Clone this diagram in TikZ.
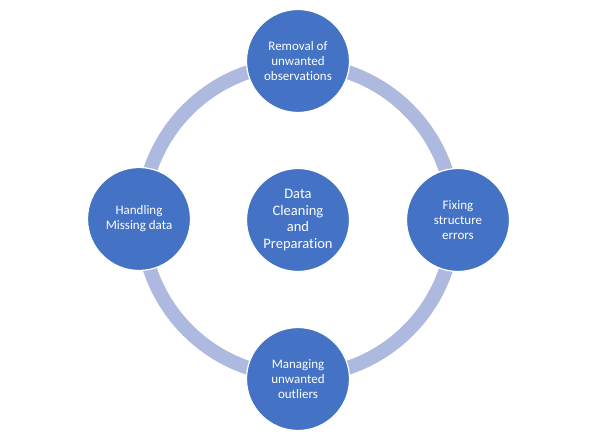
\documentclass[tikz,border=0pt]{standalone}
\usepackage{fontspec}
\setmainfont[Ligatures=NoCommon]{Carlito}
\usepackage{tikz}
\usetikzlibrary{positioning}
\definecolor{stageblue}{RGB}{68,114,196}
\definecolor{ringblue}{RGB}{173,185,222}

\begin{document}
\begin{tikzpicture}[x=1pt, y=-1pt,
		every stage/.style={circle, fill=stageblue, draw=white, line width=1.2pt,
			minimum size=103pt, inner sep=0pt, text=white, align=center,
			font=\fontsize{13}{15}\selectfont},
		ring/.style={draw=ringblue, line width=14pt}]
		
		\useasboundingbox (0,0) rectangle (597,443);
		
		\node [every stage, font=\fontsize{14.5}{16.7}\selectfont] (core) at (298,220)
		{Data\\Cleaning\\and\\Preparation};
		
		\draw [ring] (core) circle [radius=156pt];
		
		\foreach \m/\x/\y/\t in {1/298/61/{Removal of\\unwanted\\observations},
			2/458/220/{Fixing\\structure\\errors},
			3/298/379/{Managing\\unwanted\\outliers},
			4/139/219/{Handling\\Missing data}}
		\node [every stage] (stage-\m) at (\x,\y) {\t};

		\end{tikzpicture}
\end{document}
